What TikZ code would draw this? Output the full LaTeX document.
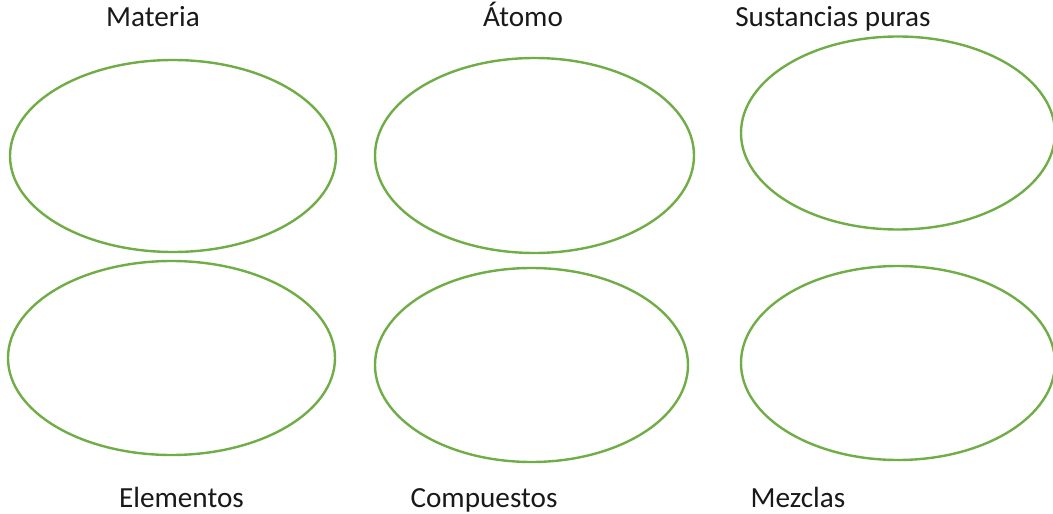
\documentclass[tikz,border=0pt]{standalone}
\usepackage{fontspec}
\setmainfont{Carlito}
\definecolor{ogreen}{HTML}{70AD47}
\begin{document}
\begin{tikzpicture}[x=1pt,y=-1pt,
  oval/.style={draw=ogreen,line width=2.4pt},
  lbl/.style={anchor=base,inner sep=0pt,font=\fontsize{29.2}{35}\selectfont,text=black!90}]
\useasboundingbox (0,0) rectangle (1053,514);
\clip (0,0) rectangle (1053,514);
\draw[oval] (173,156) ellipse [x radius=163,y radius=96];
\draw[oval] (534.5,155.5) ellipse [x radius=159.5,y radius=97.5];
\draw[oval] (898,133) ellipse [x radius=157,y radius=96.5];
\draw[oval] (171.5,358) ellipse [x radius=163.5,y radius=97];
\draw[oval] (531.5,365) ellipse [x radius=156.5,y radius=97];
\draw[oval] (898,363) ellipse [x radius=157,y radius=97];
\node[lbl] (materia) at (153,27) {Materia};
\node[lbl] (atomo) at (523,27) {Átomo};
\node[lbl] (sust) at (833,27) {Sustancias puras};
\node[lbl] (elem) at (181.5,507.5) {Elementos};
\node[lbl] (comp) at (484,507.5) {Compuestos};
\node[lbl] (mez) at (798,507.5) {Mezclas};
\end{tikzpicture}
\end{document}
